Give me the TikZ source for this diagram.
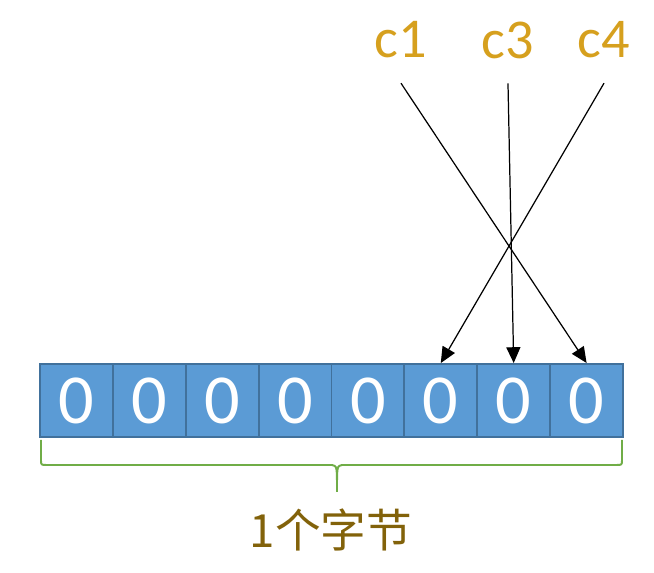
\documentclass[tikz,border=0pt]{standalone}
\usepackage{fontspec}
\newfontfamily\digitfont{Carlito}
\newfontfamily\cjkfont{Noto Sans CJK SC}
\usetikzlibrary{arrows.meta}
\definecolor{cellfill}{RGB}{91,155,213}
\definecolor{cellborder}{RGB}{65,113,156}
\definecolor{labelgold}{RGB}{214,160,30}
\definecolor{bytetext}{RGB}{130,98,10}
\definecolor{bracegreen}{RGB}{112,173,71}

\begin{document}
\begin{tikzpicture}[
    x=0.02cm,
    y=-0.02cm,
    cell/.style={
        draw=cellborder,
        fill=cellfill,
        line width=1.1pt,
        minimum width=1.4575cm,
        minimum height=1.46cm,
        inner sep=0pt,
        text=white,
        font=\digitfont\fontsize{40}{40}\selectfont
    },
    pointer/.style={
        font=\digitfont\fontsize{32}{32}\selectfont,
        text=labelgold,
        inner sep=2pt
    },
    bitarrow/.style={
        -{Triangle[length=9pt,width=8pt]},
        line width=0.7pt,
        black
    },
    brace/.style={
        draw=bracegreen,
        line width=1.1pt,
        line join=round
    }
]
\useasboundingbox (0,0) rectangle (654,573);

\node[cell] (b1) at (76.4,400.5) {0};
\node[cell] (b2) at (149.3,400.5) {0};
\node[cell] (b3) at (222.2,400.5) {0};
\node[cell] (b4) at (295.1,400.5) {0};
\node[cell] (b5) at (367.9,400.5) {0};
\node[cell] (b6) at (440.8,400.5) {0};
\node[cell] (b7) at (513.7,400.5) {0};
\node[cell] (b8) at (586.6,400.5) {0};

\node[pointer] (c1) at (401,40) {c1};
\node[pointer] (c3) at (508,40) {c3};
\node[pointer] (c4) at (604,40) {c4};

\draw[bitarrow] ([yshift=-12pt]c1.south) -- (b8.north);
\draw[bitarrow] ([yshift=-12pt]c3.south) -- (b7.north);
\draw[bitarrow] ([yshift=-12pt]c4.south) -- (b6.north);

% brace under the byte
\draw[brace] (41,440) -- (41,460)
    .. controls (41,465) .. (47,465) -- (332,465)
    .. controls (337,466) .. (337,492);
\draw[brace] (622,440) -- (622,460)
    .. controls (622,465) .. (616,465) -- (342,465)
    .. controls (337,466) .. (337,492);

\node[text=bytetext, font=\cjkfont\fontsize{26}{26}\selectfont] (byte) at (331,530) {1个字节};

\end{tikzpicture}
\end{document}
